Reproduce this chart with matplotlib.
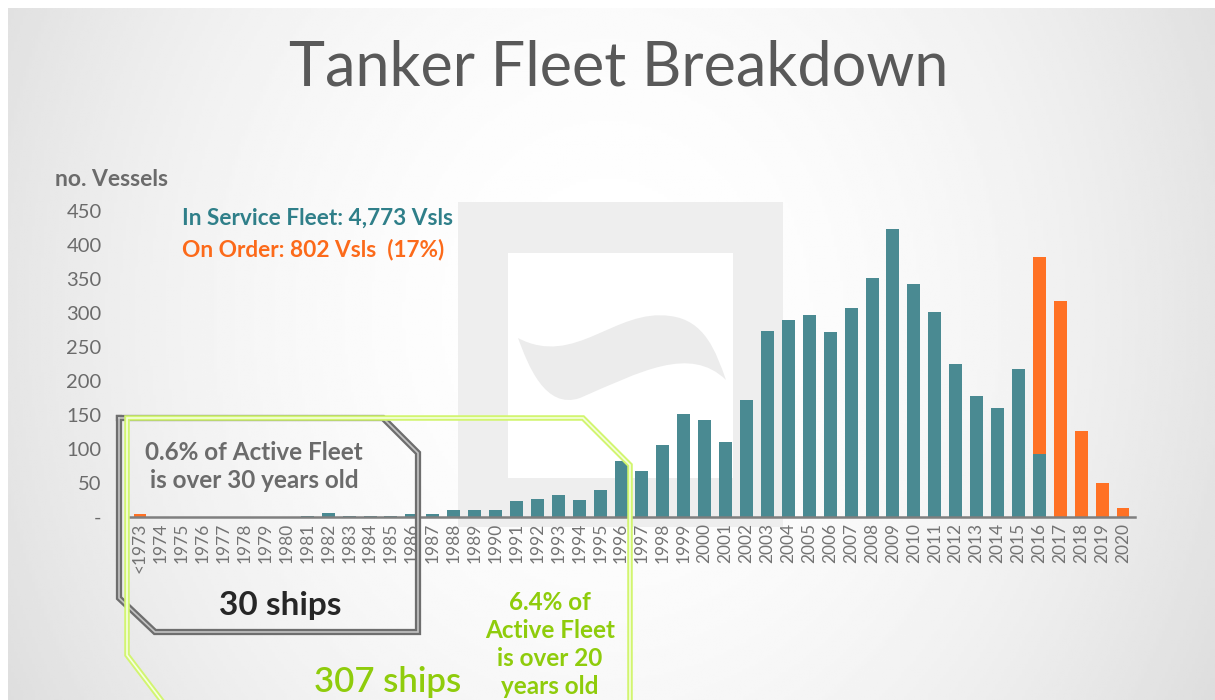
import numpy as np
import matplotlib
matplotlib.use("Agg")
import matplotlib.pyplot as plt
from matplotlib.path import Path
from matplotlib.patches import PathPatch, Rectangle

plt.rcParams['font.family'] = ['Lato', 'DejaVu Sans']

# data
years = ['<1973'] + [str(y) for y in range(1974, 2021)]
in_service = [0, 0, 0, 0, 0, 0, 0, 0, 1, 6, 2, 2, 2, 4, 4, 11, 11, 11,
              23, 27, 32, 25, 40, 82, 67, 106, 151, 142, 110, 172,
              273, 289, 297, 272, 308, 351, 423, 342, 302, 225, 178,
              161, 217, 92, 0, 0, 0, 0]
on_order = [5] + [0] * 42 + [290, 318, 126, 50, 13]
yticks = [0, 50, 100, 150, 200, 250, 300, 350, 400, 450]
ytick_labels = ['-'] + [str(v) for v in yticks[1:]]

TEAL = '#4a8a92'
ORANGE = '#ff7124'
GREY_TXT = '#6b6b6b'
LIME_TXT = '#8fcc0c'
W, H = 1215, 700

fig = plt.figure(figsize=(12.15, 7), dpi=100)

# background: soft grey vignette + watermark
bg = fig.add_axes([0, 0, 1, 1], zorder=0)
xx, yy = np.meshgrid(np.linspace(0, 1, 400), np.linspace(0, 1, 240))
shade = 1 - 0.12 * (((xx - 0.5) / 0.5) ** 2 * 0.85 + ((yy - 0.45) / 0.55) ** 2 * 0.25)
bg.imshow(shade, cmap='gray', vmin=0, vmax=1, extent=[0, W, H, 0], aspect='auto')
bg.add_patch(Rectangle((0, 0), 8, H, color='white', lw=0))
bg.add_patch(Rectangle((0, 0), W, 8, color='white', lw=0))
bg.add_patch(Rectangle((458, 202), 325, 325, color='#eeeeee', lw=0))
bg.add_patch(Rectangle((508, 253), 225, 225, color='white', lw=0))
wave = Path([(518, 338), (575, 368), (615, 308), (670, 316),
             (705, 320), (716, 352), (726, 380),
             (690, 345), (640, 372), (580, 398),
             (545, 410), (528, 365), (518, 338)],
            [Path.MOVETO, Path.CURVE4, Path.CURVE4, Path.CURVE4,
             Path.CURVE4, Path.CURVE4, Path.CURVE4,
             Path.CURVE4, Path.CURVE4, Path.CURVE4,
             Path.CURVE4, Path.CURVE4, Path.CURVE4])
bg.add_patch(PathPatch(wave, fc='#ececec', ec='none'))
bg.set_xlim(0, W)
bg.set_ylim(H, 0)
bg.axis('off')

# main bar chart
ax = fig.add_axes([128 / W, 1 - 517 / H, (1135 - 128) / W, (517 - 211) / H], zorder=1)
ax.patch.set_alpha(0)
x = np.arange(len(years))
ax.bar(x, in_service, width=0.62, color=TEAL)
ax.bar(x, on_order, width=0.62, bottom=in_service, color=ORANGE)
ax.set_xlim(-0.574, 47.574)
ax.set_ylim(0, 450)
ax.set_yticks(yticks)
ax.set_yticklabels(ytick_labels, fontsize=14.5, color=GREY_TXT)
ax.set_xticks(x)
ax.set_xticklabels(years, rotation=90, fontsize=12.5, color='#737373')
ax.tick_params(axis='y', length=0, pad=19)
ax.tick_params(axis='x', length=0, pad=4)
for s in ['top', 'right', 'left']:
    ax.spines[s].set_visible(False)
ax.spines['bottom'].set_color('#7f7f7f')
ax.spines['bottom'].set_linewidth(1.8)

# overlay for titles, notes and callout boxes (pixel coords)
ov = fig.add_axes([0, 0, 1, 1], zorder=2)
ov.patch.set_alpha(0)
ov.set_xlim(0, W)
ov.set_ylim(H, 0)
ov.axis('off')

ov.text(619, 68, 'Tanker Fleet Breakdown', fontsize=44, fontweight='normal',
        color='#595959', ha='center', va='center')
ov.text(55, 179, 'no. Vessels', fontsize=16.5, fontweight='bold',
        color=GREY_TXT, ha='left', va='center')
ov.text(182, 218, 'In Service Fleet: 4,773 Vsls', fontsize=16.3, fontweight='bold',
        color='#2f7f89', ha='left', va='center')
ov.text(182, 250, 'On Order: 802 Vsls  (17%)', fontsize=16.3, fontweight='bold',
        color='#fc6a1a', ha='left', va='center')

# grey callout (over 30 years)
gx = [119, 383, 418, 418, 155, 119, 119]
gy = [418, 418, 453, 632, 632, 598, 418]
ov.plot(gx, gy, color='#6e6e6e', lw=4.5, solid_joinstyle='miter')
ov.plot(gx, gy, color='#c4c4c4', lw=1.2, solid_joinstyle='miter')
ov.text(254, 452, '0.6% of Active Fleet', fontsize=17.5, fontweight='bold',
        color=GREY_TXT, ha='center', va='center')
ov.text(254, 480, 'is over 30 years old', fontsize=17.5, fontweight='bold',
        color=GREY_TXT, ha='center', va='center')
ov.text(280, 605, '30 ships', fontsize=24, fontweight='bold',
        color='#262626', ha='center', va='center')

# lime callout (over 20 years)
lx = [165, 127, 127, 583, 630, 630]
ly = [705, 655, 418, 418, 465, 705]
ov.plot(lx, ly, color='#d2f570', lw=4, solid_joinstyle='miter')
ov.plot(lx, ly, color='#f6ffe0', lw=1.2, solid_joinstyle='miter')
for i, line in enumerate(['6.4% of', 'Active Fleet', 'is over 20', 'years old']):
    ov.text(550, 602 + 28 * i, line, fontsize=17.5, fontweight='bold',
            color=LIME_TXT, ha='center', va='center')
ov.text(388, 682, '307 ships', fontsize=25, fontweight='semibold',
        color=LIME_TXT, ha='center', va='center')

fig.savefig('out.png', dpi=100)
